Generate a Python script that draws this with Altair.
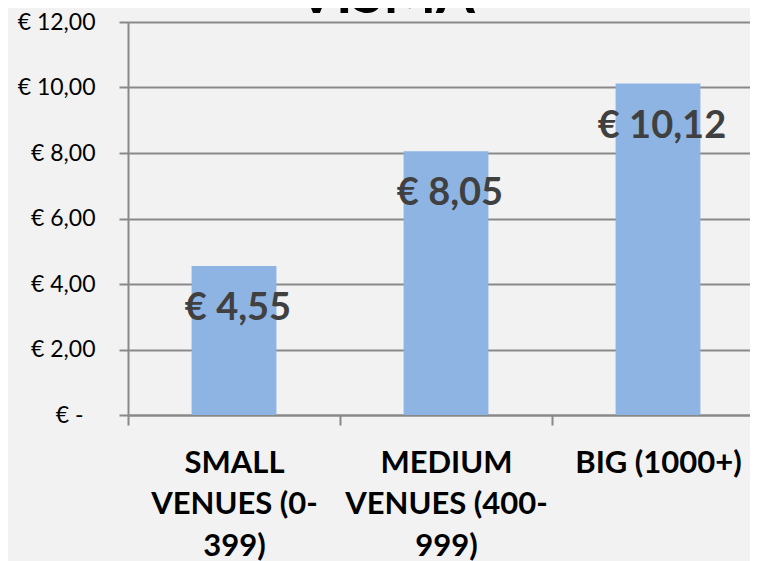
import altair as alt
import pandas as pd

categories = ["SMALL VENUES (0-399)", "MEDIUM VENUES (400-999)", "BIG (1000+)"]
values = [4.55, 8.05, 10.12]
label_lines = [["SMALL", "VENUES (0-", "399)"], ["MEDIUM", "VENUES (400-", "999)"], ["BIG (1000+)"]]
y_ticks = [0, 2, 4, 6, 8, 10, 12]
title_text = "VISMA"

df = pd.DataFrame({"category": categories, "value": values})
title_df = pd.DataFrame({"t": [title_text]})

# multi-line x labels
expr = "datum.label"
for cat, lines in reversed(list(zip(categories, label_lines))):
    arr = "[" + ",".join("'" + s + "'" for s in lines) + "]"
    expr = f"datum.label == '{cat}' ? {arr} : ({expr})"

euro_expr = "datum.value == 0 ? '€ -' : '€ ' + replace(format(datum.value, '.2f'), '.', ',')"

GRID = "#898989"
STEP = 212
P_INNER = 0.6

x_enc = alt.X(
    "category:N",
    sort=categories,
    scale=alt.Scale(range=[0, STEP * 3], paddingInner=P_INNER, paddingOuter=P_INNER / 2),
    axis=alt.Axis(
        title=None, labelAngle=0, labelExpr=expr, labelFont="Lato",
        labelFontWeight="bold", labelFontSize=31, labelColor="#000000",
        labelLineHeight=41.6, labelBaseline="top", labelPadding=23,
        labelLimit=500, labelOverlap=False, labelBound=False,
        labelOffset=P_INNER * STEP / 2,
        bandPosition=0, tickOffset=-P_INNER * STEP / 2, tickExtra=False,
        tickSize=10, tickColor=GRID, tickWidth=2,
        domainColor=GRID, domainWidth=2, grid=False,
    ),
)

y_enc = alt.Y(
    "value:Q",
    scale=alt.Scale(domain=[0, 12], nice=False),
    axis=alt.Axis(
        title=None, values=y_ticks, labelExpr=euro_expr, labelFont="Lato",
        labelFontSize=23, labelColor="#000000",
        labelPadding={"condition": {"test": "datum.value === 0", "value": 36}, "value": 24},
        tickSize=9, tickColor=GRID, tickWidth=2,
        domainColor=GRID, domainWidth=2,
        grid=True, gridColor=GRID, gridWidth=2,
    ),
)

base = alt.Chart(df).encode(x=x_enc, y=y_enc)

bars = base.mark_bar(color="#8DB4E3")
labels = base.transform_calculate(
    lbl="'€ ' + replace(format(datum.value, '.2f'), '.', ',')"
).mark_text(
    font="Lato", fontWeight="bold", fontSize=38, color="#404040",
    baseline="alphabetic", align="center", dy=54, dx=4,
).encode(text="lbl:N")

# chart title (mostly above the visible area, as in the reference)
title_layer = alt.Chart(title_df).mark_text(
    font="Lato", fontWeight="bold", fontSize=56, color="#000000",
    baseline="alphabetic", align="center",
).encode(text="t:N", x=alt.value(258), y=alt.value(-9))

chart = (
    alt.layer(bars, labels, title_layer)
    .properties(
        width=622,
        height=393,
        background="#F2F2F2",
        padding={"left": 120, "top": 14, "right": 0, "bottom": 146},
        autosize=alt.AutoSizeParams(type="none"),
    )
    .configure_view(stroke=None)
)

chart.save("out.html", embed_options={"renderer": "svg", "actions": False})
